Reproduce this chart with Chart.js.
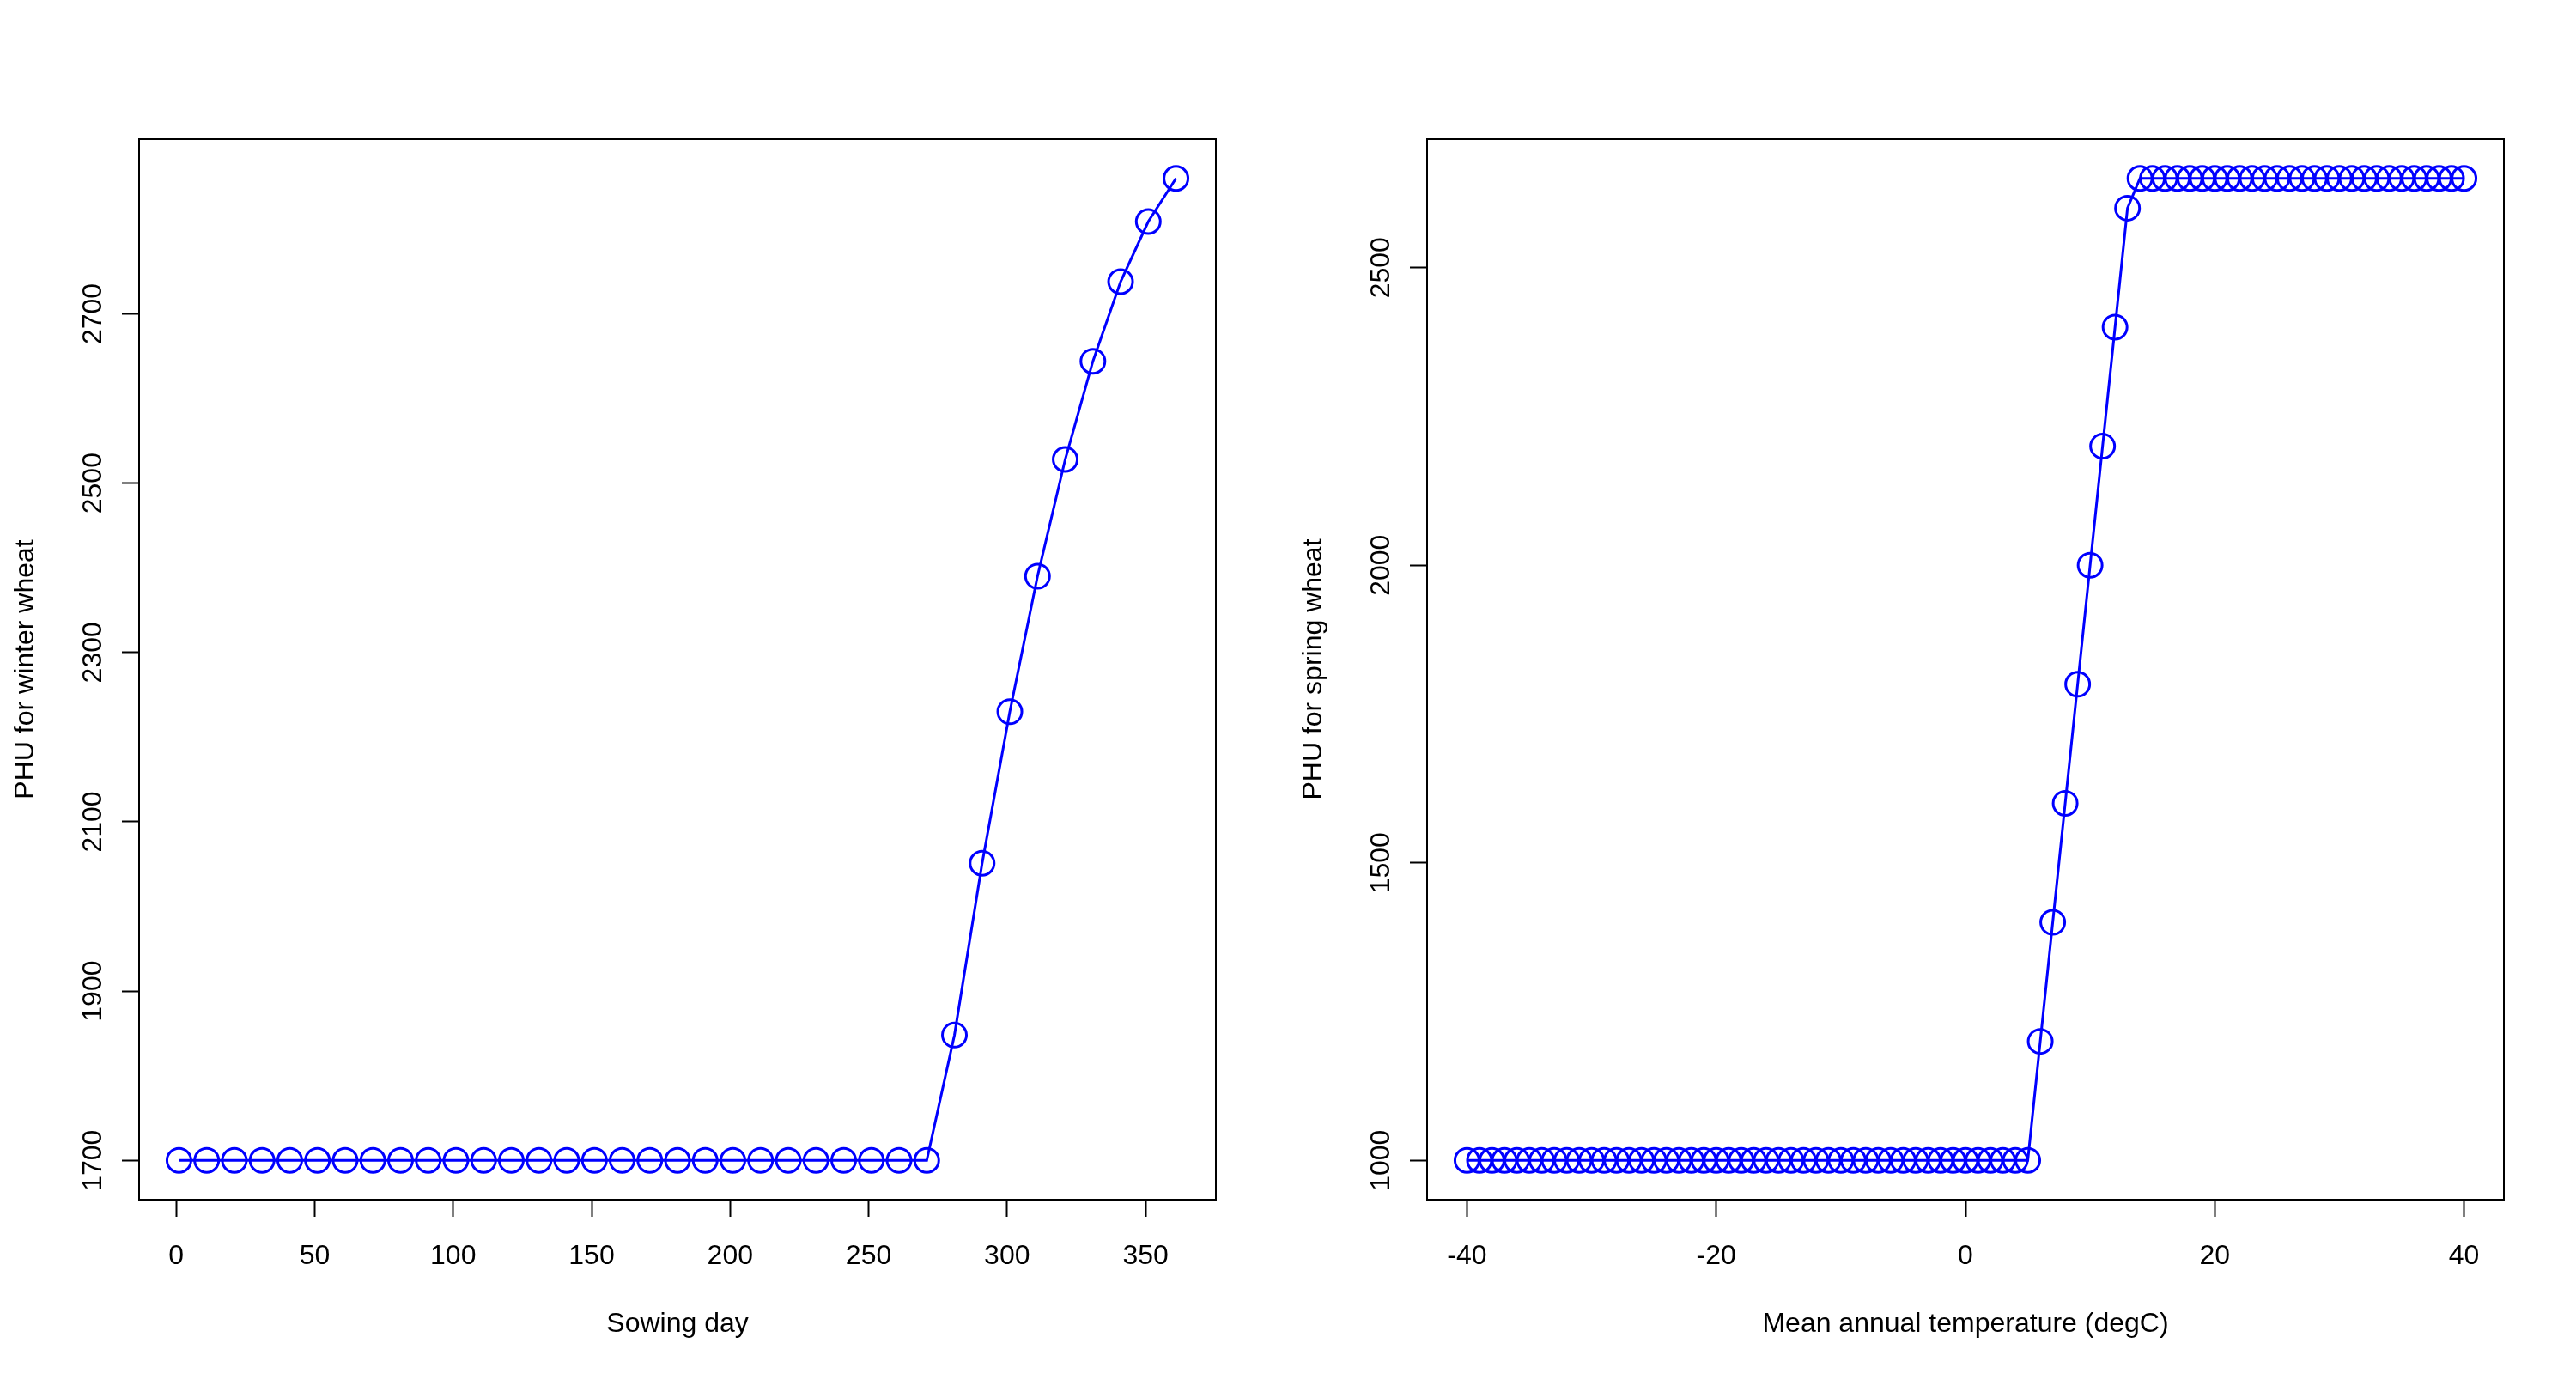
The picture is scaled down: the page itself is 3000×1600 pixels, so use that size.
<!DOCTYPE html>
<html>
<head>
<meta charset="utf-8">
<script src="https://cdn.jsdelivr.net/npm/chart.js@4.4.1/dist/chart.umd.min.js"></script>
<style>
  html, body { margin: 0; padding: 0; background: #fff; }
  #wrap { position: relative; width: 3000px; height: 1600px; }
  .panel { position: absolute; top: 0; width: 1500px; height: 1600px; }
</style>
</head>
<body>
<div id="wrap">
  <div class="panel" style="left:0"><canvas id="winter" width="1500" height="1600"></canvas></div>
  <div class="panel" style="left:1500px"><canvas id="spring" width="1500" height="1600"></canvas></div>
</div>
<script>
// left panel: sowing day vs PHU for winter wheat
const sowingDays = [1, 11, 21, 31, 41, 51, 61, 71, 81, 91, 101, 111, 121, 131, 141, 151, 161, 171, 181,
  191, 201, 211, 221, 231, 241, 251, 261, 271, 281, 291, 301, 311, 321, 331, 341, 351, 361];
const winterPHU = [1700, 1700, 1700, 1700, 1700, 1700, 1700, 1700, 1700, 1700, 1700, 1700, 1700, 1700,
  1700, 1700, 1700, 1700, 1700, 1700, 1700, 1700, 1700, 1700, 1700, 1700, 1700, 1700,
  1848, 2051, 2230, 2390, 2528, 2644, 2738, 2809, 2860];
const sowingTicks = [0, 50, 100, 150, 200, 250, 300, 350];
const winterTicks = [1700, 1900, 2100, 2300, 2500, 2700];

// right panel: mean annual temperature vs PHU for spring wheat
const meanTemps = [-40, -39, -38, -37, -36, -35, -34, -33, -32, -31, -30, -29, -28, -27, -26, -25, -24,
  -23, -22, -21, -20, -19, -18, -17, -16, -15, -14, -13, -12, -11, -10, -9, -8, -7, -6, -5, -4, -3,
  -2, -1, 0, 1, 2, 3, 4, 5, 6, 7, 8, 9, 10, 11, 12, 13, 14, 15, 16, 17, 18, 19, 20, 21, 22, 23, 24,
  25, 26, 27, 28, 29, 30, 31, 32, 33, 34, 35, 36, 37, 38, 39, 40];
const springPHU = [1000, 1000, 1000, 1000, 1000, 1000, 1000, 1000, 1000, 1000, 1000, 1000, 1000, 1000,
  1000, 1000, 1000, 1000, 1000, 1000, 1000, 1000, 1000, 1000, 1000, 1000, 1000, 1000, 1000, 1000,
  1000, 1000, 1000, 1000, 1000, 1000, 1000, 1000, 1000, 1000, 1000, 1000, 1000, 1000, 1000, 1000,
  1200, 1400, 1600, 1800, 2000, 2200, 2400, 2600,
  2650, 2650, 2650, 2650, 2650, 2650, 2650, 2650, 2650, 2650, 2650, 2650, 2650, 2650, 2650, 2650,
  2650, 2650, 2650, 2650, 2650, 2650, 2650, 2650, 2650, 2650, 2650];
const tempTicks = [-40, -20, 0, 20, 40];
const springTicks = [1000, 1500, 2000, 2500];

const FONT = '"Liberation Sans", Arial, Helvetica, sans-serif';

// R-style box round the plot plus y labels written along the axis
const rBox = {
  id: 'rBox',
  afterDraw(chart) {
    const { ctx, chartArea: a } = chart;
    ctx.save();
    ctx.strokeStyle = '#000';
    ctx.lineWidth = 2;
    ctx.strokeRect(a.left, a.top, a.right - a.left, a.bottom - a.top);
    const y = chart.scales.y;
    ctx.fillStyle = '#000';
    ctx.font = '32px ' + FONT;
    ctx.textAlign = 'center';
    ctx.textBaseline = 'alphabetic';
    y.ticks.forEach(t => {
      ctx.save();
      ctx.translate(118, y.getPixelForValue(t.value));
      ctx.rotate(-Math.PI / 2);
      ctx.fillText(String(t.value), 0, 0);
      ctx.restore();
    });
    ctx.restore();
  }
};

function makePlot(id, xs, ys, xTicks, yTicks, xMin, xMax, yMin, yMax, xTitle, yTitle) {
  const ctx = document.getElementById(id).getContext('2d');
  return new Chart(ctx, {
    type: 'line',
    data: {
      datasets: [{
        data: xs.map((x, i) => ({ x: x, y: ys[i] })),
        borderColor: '#0000ff',
        borderWidth: 3,
        pointRadius: 14,
        pointBorderWidth: 3,
        pointBorderColor: '#0000ff',
        pointBackgroundColor: 'rgba(0,0,0,0)',
        tension: 0,
        fill: false,
        clip: false
      }]
    },
    options: {
      responsive: false,
      animation: false,
      devicePixelRatio: 1,
      layout: { padding: { top: 162, right: 84, bottom: 0, left: 0 } },
      plugins: { legend: { display: false }, tooltip: { enabled: false } },
      scales: {
        x: {
          type: 'linear',
          min: xMin,
          max: xMax,
          afterBuildTicks: s => { s.ticks = xTicks.map(v => ({ value: v })); },
          afterFit: s => { s.height = 203; },
          border: { display: false },
          grid: { drawOnChartArea: false, drawTicks: true, tickLength: 20, tickWidth: 2, tickColor: '#000' },
          ticks: { color: '#000', font: { family: FONT, size: 32 }, padding: 27, maxRotation: 0, autoSkip: false },
          title: { display: true, text: xTitle, color: '#000', font: { family: FONT, size: 32 },
                   padding: { top: 0, bottom: 39 } }
        },
        y: {
          type: 'linear',
          min: yMin,
          max: yMax,
          afterBuildTicks: s => { s.ticks = yTicks.map(v => ({ value: v })); },
          afterFit: s => { s.width = 162; },
          border: { display: false },
          grid: { drawOnChartArea: false, drawTicks: true, tickLength: 20, tickWidth: 2, tickColor: '#000' },
          ticks: { display: false },
          title: { display: true, text: yTitle, color: '#000', font: { family: FONT, size: 32 },
                   padding: { top: 11, bottom: 0 } }
        }
      }
    },
    plugins: [rBox]
  });
}

makePlot('winter', sowingDays, winterPHU, sowingTicks, winterTicks,
  -13.4, 375.4, 1653.6, 2906.4, 'Sowing day', 'PHU for winter wheat');
makePlot('spring', meanTemps, springPHU, tempTicks, springTicks,
  -43.2, 43.2, 934, 2716, 'Mean annual temperature (degC)', 'PHU for spring wheat');
</script>
</body>
</html>
